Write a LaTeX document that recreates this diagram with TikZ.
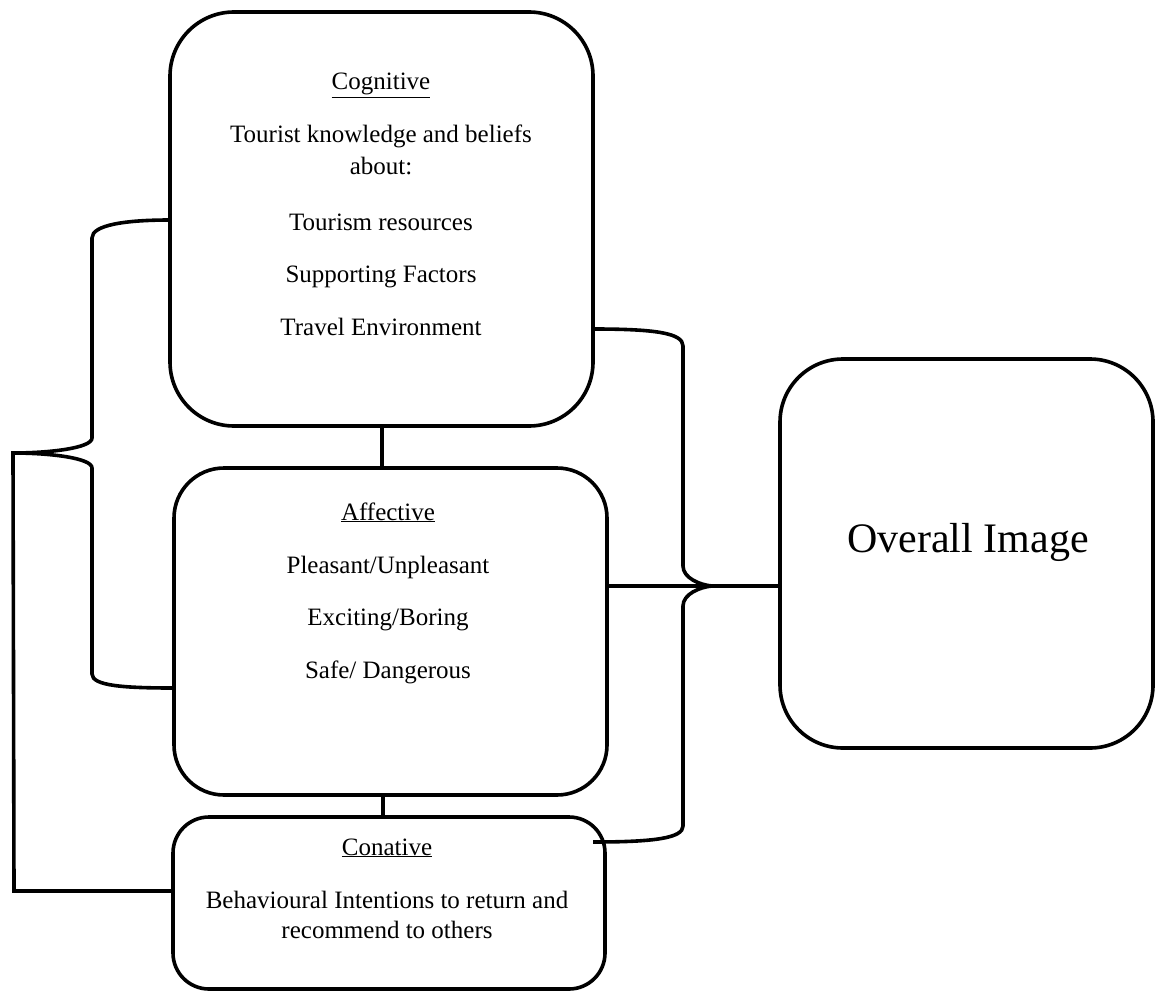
\documentclass[tikz,border=0pt]{standalone}
\usepackage{fontspec}
\setmainfont{Liberation Serif}
\begin{document}
\begin{tikzpicture}[x=1pt,y=-1pt,
  line width=3.6pt,
  box/.style={draw=black, line width=3.6pt, inner sep=0pt, outer sep=0pt, fill=white},
  txt/.style={anchor=base, inner sep=0pt, font=\fontsize{25}{30}\selectfont},
  big/.style={anchor=base, inner sep=0pt, font=\fontsize{42}{50}\selectfont}]
\useasboundingbox (0,0) rectangle (1155,992);

% boxes
\node[box, minimum width=423pt, minimum height=414pt, rounded corners=64pt] (cog) at (381.5,219) {};
\node[box, minimum width=433pt, minimum height=327pt, rounded corners=50pt] (aff) at (390.5,631.5) {};
\node[box, minimum width=432pt, minimum height=172pt, rounded corners=36pt] (con) at (389,903) {};
\node[box, minimum width=373pt, minimum height=389pt, rounded corners=63pt] (ovr) at (966.5,553.5) {};

% texts
\node[txt] (cog0) at (381,90) {\underline{Cognitive}};
\node[txt] (cog1) at (381,143) {Tourist knowledge and beliefs};
\node[txt] (cog2) at (381,175) {about:};
\node[txt] (cog3) at (381,230) {Tourism resources};
\node[txt] (cog4) at (381,282) {Supporting Factors};
\node[txt] (cog5) at (381,335) {Travel Environment};

\node[txt] (aff0) at (388,520) {\underline{Affective}};
\node[txt] (aff1) at (388,573) {Pleasant/Unpleasant};
\node[txt] (aff2) at (388,625) {Exciting/Boring};
\node[txt] (aff3) at (388,678) {Safe/ Dangerous};

\node[txt] (con0) at (387,855) {\underline{Conative}};
\node[txt] (con1) at (387,908) {Behavioural Intentions to return and};
\node[txt] (con2) at (387,938) {recommend to others};

\node[big] (ovrT) at (968,552) {Overall Image};

% vertical links between stacked boxes
\draw (cog.south -| 382,0) -- (aff.north -| 382,0);
\draw (aff.south -| 383,0) -- (con.north -| 383,0);

% left brace
\coordinate (ltip) at (13,453);
\coordinate (lbot) at (14,891);
\draw (cog.west |- 0,220) .. controls (125,220) and (92,225) .. (92,238)
  -- (92,438) .. controls (92,448) and (50,453) .. (ltip)
  .. controls (50,453) and (92,458) .. (92,468)
  -- (92,674) .. controls (92,686) and (125,688) .. (aff.west |- 0,688);
\draw[line cap=rect] (ltip) -- (lbot) -- (con.west |- lbot);

% right brace
\coordinate (rtip) at (712,586);
\draw (cog.east |- 0,329) .. controls (655,329) and (683,333) .. (683,346)
  -- (683,566) .. controls (683,578) and (700,585) .. (rtip)
  .. controls (700,587) and (683,594) .. (683,606)
  -- (683,826) .. controls (683,838) and (655,842) .. (593,842);
\draw (aff.east |- rtip) -- (ovr.west |- rtip);
\end{tikzpicture}
\end{document}
